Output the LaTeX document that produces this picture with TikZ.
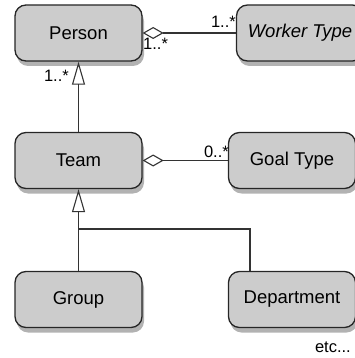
\documentclass[tikz,border=0pt]{standalone}
\usepackage{fontspec}
\setmainfont{Liberation Sans}
\usetikzlibrary{shadows,arrows.meta}
\begin{document}
\begin{tikzpicture}[x=1pt,y=-1pt,
  cls/.style={draw=black!85, line width=1.3pt, fill=black!20, rounded corners=11pt,
    minimum width=127pt, minimum height=56pt, font=\fontsize{18.5}{20}\selectfont,
    drop shadow={shadow xshift=2pt, shadow yshift=-5pt, opacity=0.3, fill=black}},
  lbl/.style={font=\fontsize{16.5}{18}\selectfont, inner sep=0pt},
  conn/.style={draw=black!80, line width=1.1pt},
  agg/.style={conn, {Diamond[open,length=21pt,width=12pt,line width=1.1pt]}-},
  inh/.style={conn, -{Triangle[open,length=23pt,width=13pt,line width=1.1pt]}}]
\useasboundingbox (0,0) rectangle (354,358);
\node[cls] (person) at (78.5,33) {Person};
\node[cls] (worker) at (300,33) {\itshape Worker Type};
\node[cls] (team) at (78.5,160.5) {Team};
\node[cls] (goal) at (292,160.5) {Goal Type};
\node[cls] (group) at (78.5,299.5) {Group};
\node[cls] (dept) at (292,299.5) {Department};
\draw[agg] (person.east) -- (worker.west);
\draw[agg] (team.east) -- (goal.west);
\draw[inh] (team.north) -- (person.south);
\coordinate (j) at (78.5,229);
\coordinate (jr) at (250,229);
\draw[inh] (j) -- (team.south);
\draw[conn] (group.north) -- (j) -- (jr) -- (jr |- dept.north);
\node[lbl, anchor=south east] (l1) at (236,28) {1..*};
\node[lbl, anchor=north west] (l2) at (143,38) {1..*};
\node[lbl, anchor=east] (l3) at (69,76) {1..*};
\node[lbl, anchor=south east] (l4) at (229,158) {0..*};
\node[lbl, anchor=east] (etc) at (351,347) {etc...};
\end{tikzpicture}
\end{document}
